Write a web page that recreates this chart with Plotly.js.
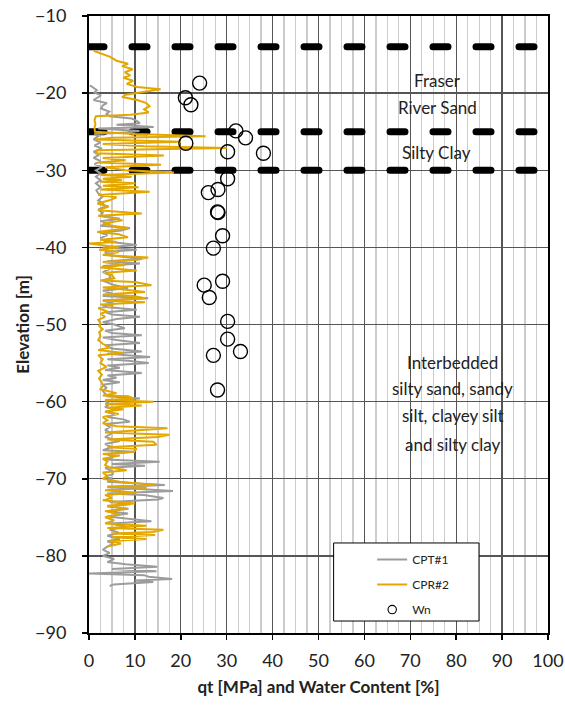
<!DOCTYPE html>
<html><head><meta charset="utf-8">
<script src="https://cdn.plot.ly/plotly-3.0.1.min.js"></script>
<style>
html,body{margin:0;padding:0;background:#fff}
.shapelayer path{stroke-linecap:round}
.legend .legendlines path{stroke-width:2px !important}
.legend .legendpoints path.scatterpts{transform:translate(20px,0) scale(0.7);stroke-width:1.6px !important}
</style>
</head><body><div id="chart" style="width:565px;height:706px"></div>
<script>
// CPT#1 (grey) : elevation [m] and qt [MPa]
const cpt1Elev = [-19.0,-19.3,-19.6,-19.9,-20.3,-20.6,-20.9,-21.3,-21.6,-22.0,-22.4,-22.7,-23.0,-23.3,-23.6,-23.9,-24.1,-24.4,-24.6,-24.9,-25.1,-25.3,-25.6,-26.0,-26.4,-26.8,-27.2,-27.6,-28.0,-28.4,-28.8,-29.2,-29.6,-30.0,-30.4,-30.85,-31.3,-31.7,-32.2,-32.6,-33.0,-33.4,-33.9,-34.3,-34.7,-35.1,-35.5,-35.9,-36.3,-36.6,-36.9,-37.2,-37.5,-37.8,-38.1,-38.4,-38.8,-39.2,-39.7,-40.0,-40.3,-40.6,-41.0,-41.5,-41.8,-42.1,-42.4,-42.8,-43.2,-43.6,-44.0,-44.3,-44.8,-45.3,-45.6,-46.0,-46.3,-46.6,-46.9,-47.3,-47.7,-48.1,-48.4,-48.7,-49.0,-49.3,-49.7,-50.0,-50.5,-50.8,-51.1,-51.4,-51.7,-52.0,-52.4,-52.7,-53.1,-53.5,-53.8,-54.2,-54.5,-54.7,-55.0,-55.3,-55.6,-55.9,-56.3,-56.6,-56.9,-57.2,-57.5,-57.8,-58.2,-58.6,-59.0,-59.3,-59.6,-59.9,-60.3,-60.7,-61.0,-61.3,-61.6,-62.0,-62.3,-62.6,-62.9,-63.3,-63.7,-64.1,-64.6,-65.1,-65.5,-65.9,-66.3,-66.5,-66.8,-67.2,-67.5,-67.8,-68.1,-68.3,-68.6,-69.0,-69.4,-69.7,-70.0,-70.4,-70.8,-71.1,-71.3,-71.6,-71.9,-72.1,-72.5,-72.7,-73.0,-73.3,-73.6,-73.9,-74.2,-74.5,-74.9,-75.2,-75.5,-75.8,-76.2,-76.6,-77.0,-77.4,-77.8,-78.1,-78.4,-78.8,-79.2,-79.6,-80.0,-80.4,-80.8,-81.1,-81.4,-81.7,-82.0,-82.3,-82.5,-82.7,-83.0,-83.2,-83.4,-83.7,-83.9];
const cpt1Qt = [0.2,1.0,1.7,1.2,2.6,1.8,1.0,3.9,3.0,2.6,4.4,3.8,4.5,9.3,10.4,11.1,6.0,14.1,2.0,11.0,8.0,1.2,2.0,1.0,2.5,1.2,2.8,1.0,2.2,1.0,2.5,1.2,2.8,1.5,2.5,1.5,2.5,1.5,2.5,1.6,2.0,3.0,2.0,3.0,3.5,2.0,3.0,2.5,6.7,2.5,4.6,2.5,8.9,7.0,2.5,4.0,2.5,3.5,10.4,3.0,10.4,3.5,4.0,11.5,4.0,11.1,3.0,4.5,3.0,4.5,4.6,3.0,5.0,8.5,3.0,5.0,3.0,12.9,3.0,5.5,3.0,10.4,3.5,5.0,11.1,6.0,3.0,5.5,7.8,3.5,5.0,11.5,3.0,6.0,11.1,3.5,5.0,11.5,4.0,13.3,4.0,8.5,13.0,4.0,6.7,3.5,11.5,4.0,6.0,3.0,6.7,3.0,3.8,3.0,3.5,4.0,11.1,3.5,4.5,3.5,6.0,3.5,5.5,4.0,7.5,8.9,3.5,4.5,3.5,5.0,3.5,6.7,3.5,5.0,3.0,10.0,4.0,5.2,3.5,15.4,5.0,12.2,3.5,5.0,5.2,3.5,5.0,4.0,16.5,4.0,10.0,18.3,4.0,12.0,16.2,15.0,4.5,9.0,4.0,8.6,4.0,8.5,4.0,9.3,13.6,4.5,8.0,4.5,6.5,4.0,6.7,4.0,5.3,4.0,3.0,4.5,3.0,5.5,4.0,8.0,14.9,5.0,14.7,0.0,12.0,13.0,18.1,10.0,14.0,5.4,4.5];

// CPR#2 (gold) : elevation [m] and qt [MPa]
const cpr2Elev = [-14.5,-14.9,-15.3,-15.8,-16.2,-16.5,-16.9,-17.3,-17.7,-18.0,-18.4,-18.8,-19.2,-19.5,-19.8,-20.2,-20.5,-20.9,-21.3,-21.7,-22.1,-22.5,-22.8,-23.0,-23.5,-24.0,-24.5,-25.0,-25.3,-25.6,-25.8,-26.0,-26.3,-26.6,-26.9,-27.1,-27.4,-27.8,-28.1,-28.4,-28.7,-29.0,-29.3,-29.6,-30.0,-30.3,-30.6,-30.85,-31.1,-31.3,-31.5,-31.7,-32.0,-32.2,-32.5,-32.8,-33.2,-33.5,-33.9,-34.3,-34.7,-35.2,-35.6,-35.9,-36.2,-36.5,-36.9,-37.2,-37.5,-38.0,-38.3,-38.7,-39.0,-39.3,-39.5,-39.7,-40.0,-40.3,-40.6,-41.0,-41.3,-41.6,-41.9,-42.3,-42.6,-43.0,-43.3,-43.6,-44.0,-44.3,-44.5,-44.9,-45.2,-45.5,-45.8,-46.1,-46.3,-46.6,-46.9,-47.1,-47.4,-47.6,-47.9,-48.3,-48.6,-49.0,-49.4,-49.8,-50.2,-50.6,-51.0,-51.5,-52.0,-52.5,-53.0,-53.3,-53.7,-54.0,-54.5,-55.0,-55.5,-56.0,-56.5,-57.0,-57.5,-58.0,-58.4,-58.9,-59.2,-59.3,-59.6,-59.8,-60.0,-60.3,-60.5,-60.8,-61.0,-61.3,-61.6,-62.0,-62.4,-62.8,-63.2,-63.45,-63.7,-64.0,-64.3,-64.6,-64.9,-65.2,-65.6,-65.9,-66.1,-66.5,-66.8,-67.0,-67.4,-67.8,-68.2,-68.5,-68.9,-69.2,-69.6,-70.0,-70.4,-70.8,-71.0,-71.2,-71.5,-71.8,-72.1,-72.5,-72.8,-73.2,-73.5,-73.9,-74.2,-74.6,-75.0,-75.4,-75.8,-76.1,-76.4,-76.6,-76.9,-77.1,-77.3,-77.6,-77.8,-78.1,-78.4,-78.8];
const cpr2Qt = [1.0,3.0,4.6,6.0,8.5,7.2,9.5,7.8,9.0,7.5,9.6,8.2,10.5,15.6,12.0,8.0,7.2,10.5,12.5,13.2,12.0,13.0,9.0,1.5,1.2,1.4,1.2,1.3,10.0,25.4,5.0,1.5,20.0,3.0,12.0,30.0,1.8,1.5,16.3,3.0,8.0,2.0,15.7,3.5,8.0,18.5,2.5,9.3,3.0,7.2,2.5,10.1,3.0,10.8,2.5,13.2,2.0,6.0,4.5,1.8,4.3,2.0,11.5,2.0,5.0,7.3,3.0,5.0,8.6,1.8,6.5,8.5,2.5,6.0,0.0,2.5,6.5,2.2,6.5,3.0,12.9,10.5,3.0,7.8,2.5,10.4,3.5,5.0,5.5,2.5,10.0,13.6,3.0,8.0,12.2,3.0,9.7,12.2,3.0,12.2,2.5,5.3,2.0,4.0,2.5,3.5,2.0,2.5,2.2,3.0,2.2,2.5,2.0,3.0,4.5,2.0,7.5,2.0,3.0,2.5,3.8,2.0,2.8,2.2,2.8,3.0,2.5,6.0,3.0,8.6,9.7,3.5,14.0,3.5,11.5,4.0,7.5,3.5,6.5,3.0,4.0,3.0,6.0,17.1,10.9,3.5,17.5,15.0,4.0,14.0,14.7,4.0,10.4,9.7,3.0,6.7,3.0,4.0,3.5,4.3,8.2,3.0,4.0,3.0,6.7,14.3,4.0,12.5,3.5,10.4,3.5,5.0,3.0,10.0,4.0,8.2,3.5,6.7,3.5,5.5,3.5,12.5,4.0,16.2,13.9,5.0,14.4,5.0,12.5,4.5,7.0,4.0];

// Water content Wn [%]
const wnElev = [-18.7,-20.6,-21.5,-24.9,-25.8,-26.5,-27.6,-27.8,-31.1,-32.5,-32.9,-35.4,-35.5,-38.5,-40.1,-44.4,-44.9,-46.5,-49.6,-51.9,-53.5,-54.0,-58.5];
const wnValue = [24.1,21.0,22.2,32.0,34.1,21.1,30.2,38.0,30.2,28.1,26.0,28.0,28.1,29.1,27.1,29.1,25.1,26.2,30.2,30.2,33.0,27.1,28.0];

// Layer boundaries (elevation, m) and labels
const layerBoundaries = [-14, -25, -30];
const layerLabels = [
  {text: "Fraser", x: 76, y: -18.33},
  {text: "River Sand", x: 76, y: -21.83},
  {text: "Silty Clay", x: 75.8, y: -27.65},
  {text: "Interbedded", x: 79.3, y: -54.98},
  {text: "silty sand, sandy", x: 79.3, y: -58.35},
  {text: "silt, clayey silt", x: 79.3, y: -61.85},
  {text: "and silty clay", x: 79.3, y: -65.5}
];
const xTicks = [0,10,20,30,40,50,60,70,80,90,100];
const yTicks = [-90,-80,-70,-60,-50,-40,-30,-20,-10];

const FONT = "Lato, 'Open Sans', sans-serif";

const data = [
  {type:'scatter', mode:'lines', name:'CPT#1', x:cpt1Qt, y:cpt1Elev,
   line:{color:'#9C9C9C', width:2}},
  {type:'scatter', mode:'lines', name:'CPR#2', x:cpr2Qt, y:cpr2Elev,
   line:{color:'#E3A700', width:2}},
  {type:'scatter', mode:'markers', name:'Wn', x:wnValue, y:wnElev,
   marker:{symbol:'circle-open', size:14, color:'#000', line:{width:1.4, color:'#000'}}}
];

const shapes = layerBoundaries.map(v => ({
  type:'line', xref:'x', yref:'y', x0:0, x1:100, y0:v, y1:v, layer:'between',
  line:{color:'#000', width:7, dash:'15px,28px'}
}));
shapes.push({type:'rect', xref:'paper', yref:'paper', x0:0.5338, x1:0.8497, y0:0.0194, y1:0.1459,
  layer:'above', fillcolor:'#fff', line:{color:'#000', width:1}});

const annotations = layerLabels.map(l => ({
  text:l.text, x:l.x, y:l.y, xref:'x', yref:'y', showarrow:false,
  font:{family:FONT, size:17, color:'#222'}, xanchor:'center', yanchor:'middle'
}));

const layout = {
  width:565, height:706,
  margin:{l:89, r:17, t:16, b:73},
  paper_bgcolor:'#fff', plot_bgcolor:'#fff',
  font:{family:FONT, color:'#222'},
  showlegend:true,
  legend:{x:0.617, y:0.1426, xanchor:'left', yanchor:'top', bgcolor:'rgba(0,0,0,0)',
    borderwidth:0, font:{family:FONT, size:12, color:'#222'}, traceorder:'grouped',
    tracegroupgap:6, itemsizing:'constant'},
  xaxis:{range:[0,100], tickvals:xTicks, ticks:'outside', ticklen:5, tickcolor:'#000', tickwidth:1.5,
    showline:true, linecolor:'#000', linewidth:2, mirror:true,
    showgrid:true, gridcolor:'#555', gridwidth:1.3, zeroline:false,
    minor:{dtick:2.5, showgrid:true, gridcolor:'#CCCCCC', gridwidth:1.3},
    tickfont:{family:FONT, size:18, color:'#222'}, ticklabelstandoff:5,
    title:{text:'<b>qt [MPa] and Water Content [%]</b>', font:{family:FONT, size:17, color:'#222'}, standoff:12},
    fixedrange:true},
  yaxis:{range:[-90,-10], tickvals:yTicks, ticks:'outside', ticklen:5, tickcolor:'#000', tickwidth:1.5,
    showline:true, linecolor:'#000', linewidth:2, mirror:true,
    showgrid:true, gridcolor:'#555', gridwidth:1.3, zeroline:false,
    tickfont:{family:FONT, size:18, color:'#222'}, ticklabelstandoff:12,
    title:{text:'<b>Elevation [m]</b>', font:{family:FONT, size:17, color:'#222'}, standoff:1},
    fixedrange:true},
  shapes:shapes,
  annotations:annotations
};
data.forEach((t,i)=>{t.legendgroup='g'+i;});
Plotly.newPlot('chart', data, layout, {displayModeBar:false, staticPlot:true});
</script></body></html>
